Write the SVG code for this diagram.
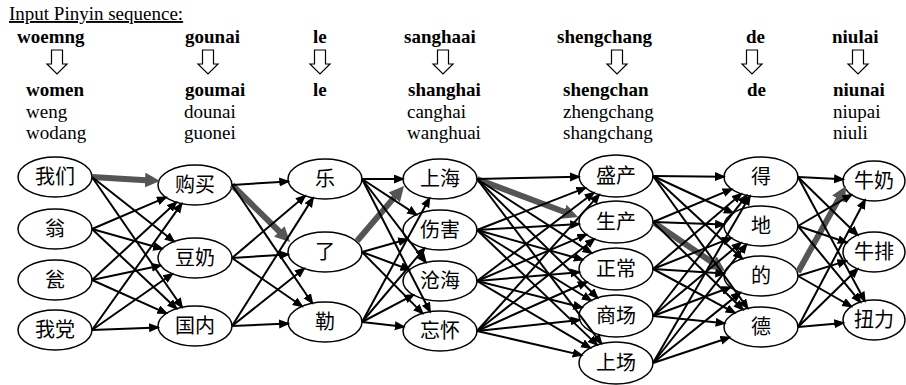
<svg xmlns="http://www.w3.org/2000/svg" width="906" height="385" viewBox="0 0 906 385">
<style>
.n ellipse{fill:#fff;stroke:#000;stroke-width:1.5}
.n text{font-family:"Noto Sans CJK SC",sans-serif;font-size:20px;text-anchor:middle;fill:#000}
.e line{stroke:#000;stroke-width:2;marker-end:url(#ah)}
.g line{stroke:#555;stroke-width:6;marker-end:url(#gh)}
.lat{font-family:"Liberation Serif","Times New Roman",serif;font-size:19px;fill:#000}
.b{font-weight:bold}
.pa{fill:#fff;stroke:#000;stroke-width:1.2}
</style>
<defs>
<marker id="ah" markerUnits="userSpaceOnUse" markerWidth="12" markerHeight="10" refX="9" refY="4.5" orient="auto"><path d="M0,0 L11,4.5 L0,9 z" fill="#000"/></marker>
<marker id="gh" markerUnits="userSpaceOnUse" markerWidth="16" markerHeight="16" refX="5" refY="7.5" orient="auto"><path d="M0,0 L15,7.5 L0,15 z" fill="#555"/></marker>
<polygon id="pa" points="-5.5,0 5.5,0 5.5,14 10,14 0,24 -10,14 -5.5,14"/>
</defs>
<g id="header">
<text class="lat" x="9" y="20" font-size="20" text-decoration="underline">Input Pinyin sequence:</text>
<text class="lat b" x="17" y="43">woemng</text>
<text class="lat b" x="185" y="43">gounai</text>
<text class="lat b" x="313" y="43">le</text>
<text class="lat b" x="404" y="43">sanghaai</text>
<text class="lat b" x="557" y="43">shengchang</text>
<text class="lat b" x="746" y="43">de</text>
<text class="lat b" x="832" y="43">niulai</text>
<use href="#pa" class="pa" x="57" y="50"/>
<use href="#pa" class="pa" x="208" y="50"/>
<use href="#pa" class="pa" x="320" y="50"/>
<use href="#pa" class="pa" x="443" y="50"/>
<use href="#pa" class="pa" x="617" y="50"/>
<use href="#pa" class="pa" x="752" y="50"/>
<use href="#pa" class="pa" x="858" y="50"/>
<text class="lat b" x="26" y="96">women</text>
<text class="lat" x="26" y="117.5">weng</text>
<text class="lat" x="26" y="139">wodang</text>
<text class="lat b" x="185" y="96">goumai</text>
<text class="lat" x="184" y="117.5">dounai</text>
<text class="lat" x="184" y="139">guonei</text>
<text class="lat b" x="313" y="96">le</text>
<text class="lat b" x="408" y="96">shanghai</text>
<text class="lat" x="407" y="117.5">canghai</text>
<text class="lat" x="407" y="139">wanghuai</text>
<text class="lat b" x="563" y="96">shengchan</text>
<text class="lat" x="563" y="117.5">zhengchang</text>
<text class="lat" x="563" y="139">shangchang</text>
<text class="lat b" x="747" y="96">de</text>
<text class="lat b" x="833" y="96">niunai</text>
<text class="lat" x="833" y="117.5">niupai</text>
<text class="lat" x="833" y="139">niuli</text>
</g>
<g id="n-women" class="n"><ellipse cx="55" cy="177" rx="37" ry="20"/><text x="55" y="184">我们</text></g>
<g id="n-weng" class="n"><ellipse cx="55" cy="229" rx="37" ry="20"/><text x="55" y="236">翁</text></g>
<g id="n-weng2" class="n"><ellipse cx="55" cy="280" rx="37" ry="20"/><text x="55" y="287">瓮</text></g>
<g id="n-wodang" class="n"><ellipse cx="55" cy="330" rx="37" ry="20"/><text x="55" y="337">我党</text></g>
<g id="n-goumai" class="n"><ellipse cx="195" cy="185" rx="37" ry="20"/><text x="195" y="192">购买</text></g>
<g id="n-dounai" class="n"><ellipse cx="195" cy="258" rx="37" ry="20"/><text x="195" y="265">豆奶</text></g>
<g id="n-guonei" class="n"><ellipse cx="195" cy="326" rx="37" ry="20"/><text x="195" y="333">国内</text></g>
<g id="n-le1" class="n"><ellipse cx="325" cy="179" rx="37" ry="20"/><text x="325" y="186">乐</text></g>
<g id="n-le2" class="n"><ellipse cx="325" cy="252" rx="37" ry="20"/><text x="325" y="259">了</text></g>
<g id="n-le3" class="n"><ellipse cx="325" cy="322" rx="37" ry="20"/><text x="325" y="329">勒</text></g>
<g id="n-shanghai" class="n"><ellipse cx="440" cy="179" rx="37" ry="20"/><text x="440" y="186">上海</text></g>
<g id="n-shanghai2" class="n"><ellipse cx="440" cy="230" rx="37" ry="20"/><text x="440" y="237">伤害</text></g>
<g id="n-canghai" class="n"><ellipse cx="440" cy="281" rx="37" ry="20"/><text x="440" y="288">沧海</text></g>
<g id="n-wanghuai" class="n"><ellipse cx="440" cy="331" rx="37" ry="20"/><text x="440" y="338">忘怀</text></g>
<g id="n-shengchan" class="n"><ellipse cx="616" cy="176" rx="37" ry="21"/><text x="616" y="183">盛产</text></g>
<g id="n-shengchan2" class="n"><ellipse cx="616" cy="222" rx="37" ry="21"/><text x="616" y="229">生产</text></g>
<g id="n-zhengchang" class="n"><ellipse cx="616" cy="269" rx="37" ry="21"/><text x="616" y="276">正常</text></g>
<g id="n-shangchang" class="n"><ellipse cx="616" cy="316" rx="37" ry="21"/><text x="616" y="323">商场</text></g>
<g id="n-shangchang2" class="n"><ellipse cx="616" cy="363" rx="37" ry="21"/><text x="616" y="370">上场</text></g>
<g id="n-de1" class="n"><ellipse cx="761" cy="177" rx="37" ry="20"/><text x="761" y="184">得</text></g>
<g id="n-de2" class="n"><ellipse cx="761" cy="226" rx="37" ry="20"/><text x="761" y="233">地</text></g>
<g id="n-de3" class="n"><ellipse cx="761" cy="276" rx="37" ry="20"/><text x="761" y="283">的</text></g>
<g id="n-de4" class="n"><ellipse cx="761" cy="327" rx="37" ry="20"/><text x="761" y="334">德</text></g>
<g id="n-niunai" class="n"><ellipse cx="874" cy="181" rx="31" ry="20"/><text x="874" y="188">牛奶</text></g>
<g id="n-niupai" class="n"><ellipse cx="874" cy="252" rx="31" ry="20"/><text x="874" y="259">牛排</text></g>
<g id="n-niuli" class="n"><ellipse cx="874" cy="320" rx="31" ry="20"/><text x="874" y="327">扭力</text></g>
<g id="connectors">
<g class="g">
<line x1="92" y1="177" x2="150" y2="180.4"/>
<line x1="232" y1="185" x2="282.9" y2="235"/>
<line x1="357" y1="241" x2="397.5" y2="193.6"/>
<line x1="477" y1="179" x2="568.6" y2="213.5"/>
<line x1="653" y1="222" x2="716.7" y2="265.4"/>
<line x1="798" y1="272" x2="841.1" y2="194.7"/>
</g>
<g class="e">
<line x1="92" y1="177" x2="174" y2="241.5"/>
<line x1="92" y1="177" x2="182.1" y2="307.3"/>
<line x1="92" y1="229" x2="166" y2="197.4"/>
<line x1="92" y1="229" x2="162.2" y2="248.8"/>
<line x1="92" y1="229" x2="176.6" y2="308.7"/>
<line x1="92" y1="280" x2="176.3" y2="202.3"/>
<line x1="92" y1="280" x2="160.6" y2="265.4"/>
<line x1="92" y1="280" x2="166.5" y2="313.3"/>
<line x1="92" y1="330" x2="181.7" y2="203.7"/>
<line x1="92" y1="330" x2="172.4" y2="273.8"/>
<line x1="92" y1="330" x2="158.1" y2="327.4"/>

<line x1="232" y1="185" x2="288.3" y2="181.4"/>
<line x1="232" y1="185" x2="312.3" y2="303.2"/>
<line x1="232" y1="258" x2="305.1" y2="195.9"/>
<line x1="232" y1="258" x2="288.3" y2="254.4"/>
<line x1="232" y1="258" x2="302.1" y2="306.3"/>
<line x1="232" y1="326" x2="313" y2="197.9"/>
<line x1="232" y1="326" x2="304.2" y2="268.5"/>
<line x1="232" y1="326" x2="288.1" y2="323.6"/>

<line x1="362" y1="179" x2="403" y2="179"/>
<line x1="362" y1="179" x2="416.4" y2="214.6"/>
<line x1="362" y1="179" x2="425.9" y2="262.5"/>
<line x1="362" y1="179" x2="430.1" y2="311.7"/>
<line x1="362" y1="252" x2="407.2" y2="239.3"/>
<line x1="362" y1="252" x2="409.5" y2="269.7"/>
<line x1="362" y1="252" x2="422.6" y2="313.4"/>
<line x1="362" y1="322" x2="429.5" y2="198.2"/>
<line x1="362" y1="322" x2="424.6" y2="248.2"/>
<line x1="362" y1="322" x2="413.5" y2="294.9"/>
<line x1="362" y1="322" x2="403.8" y2="326.8"/>

<line x1="477" y1="179" x2="579" y2="176.8"/>
<line x1="477" y1="179" x2="591.6" y2="253.2"/>
<line x1="477" y1="179" x2="597.5" y2="297.8"/>
<line x1="477" y1="179" x2="601.4" y2="343.7"/>
<line x1="477" y1="230" x2="585.5" y2="187.9"/>
<line x1="477" y1="230" x2="579.2" y2="224.1"/>
<line x1="477" y1="230" x2="582.8" y2="259.7"/>
<line x1="477" y1="230" x2="591" y2="300.5"/>
<line x1="477" y1="230" x2="597.1" y2="344.9"/>
<line x1="477" y1="281" x2="593.8" y2="192.8"/>
<line x1="477" y1="281" x2="586.4" y2="234.6"/>
<line x1="477" y1="281" x2="579.4" y2="272.2"/>
<line x1="477" y1="281" x2="582.2" y2="307.5"/>
<line x1="477" y1="281" x2="590.3" y2="347.9"/>
<line x1="477" y1="331" x2="599.2" y2="194.7"/>
<line x1="477" y1="331" x2="594.3" y2="239"/>
<line x1="477" y1="331" x2="586.9" y2="282"/>
<line x1="477" y1="331" x2="579.7" y2="319.9"/>
<line x1="477" y1="331" x2="581.7" y2="355.1"/>

<line x1="653" y1="176" x2="724" y2="176.7"/>
<line x1="653" y1="176" x2="732.9" y2="213"/>
<line x1="653" y1="176" x2="742.3" y2="258.7"/>
<line x1="653" y1="176" x2="747.7" y2="308.3"/>
<line x1="653" y1="222" x2="731.7" y2="189.2"/>
<line x1="653" y1="222" x2="724.1" y2="224.6"/>
<line x1="653" y1="222" x2="743" y2="309.5"/>
<line x1="653" y1="269" x2="741.2" y2="193.9"/>
<line x1="653" y1="269" x2="731.2" y2="237.9"/>
<line x1="653" y1="269" x2="724.3" y2="273.6"/>
<line x1="653" y1="269" x2="734.8" y2="312.9"/>
<line x1="653" y1="316" x2="746.7" y2="195.4"/>
<line x1="653" y1="316" x2="740.9" y2="242.8"/>
<line x1="653" y1="316" x2="730.5" y2="287.3"/>
<line x1="653" y1="316" x2="724.6" y2="323.3"/>
<line x1="653" y1="363" x2="749.9" y2="196.1"/>
<line x1="653" y1="363" x2="746.5" y2="244.4"/>
<line x1="653" y1="363" x2="740.4" y2="292.6"/>
<line x1="653" y1="363" x2="729.5" y2="337.5"/>

<line x1="798" y1="177" x2="843.1" y2="179.3"/>
<line x1="798" y1="177" x2="857.7" y2="235.2"/>
<line x1="798" y1="177" x2="864.8" y2="301"/>
<line x1="798" y1="226" x2="851.6" y2="194.7"/>
<line x1="798" y1="226" x2="846.8" y2="242.5"/>
<line x1="798" y1="226" x2="860.4" y2="302.2"/>
<line x1="798" y1="276" x2="846.4" y2="260.9"/>
<line x1="798" y1="276" x2="851.4" y2="306.5"/>
<line x1="798" y1="327" x2="865" y2="200"/>
<line x1="798" y1="327" x2="857.7" y2="268.8"/>
<line x1="798" y1="327" x2="843.3" y2="322.9"/>
</g>
</g>
</svg>
